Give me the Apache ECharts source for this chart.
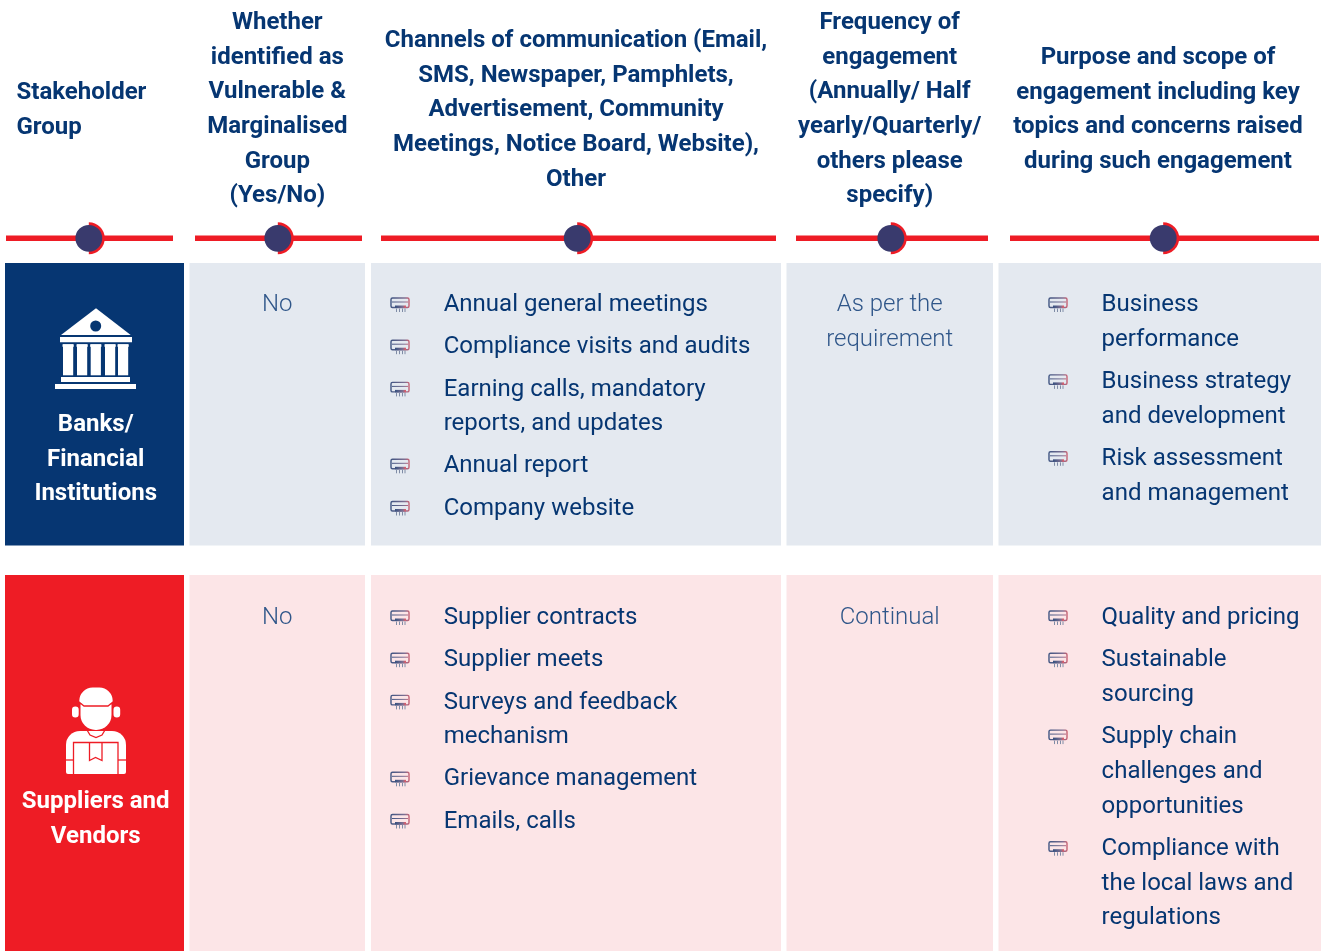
<!DOCTYPE html>
<html><head><meta charset="utf-8">
<style>html,body{margin:0;padding:0;background:#fff}#c{width:1322px;height:951px}</style>
<script src="https://cdn.jsdelivr.net/npm/echarts@6/dist/echarts.min.js"></script>
</head><body><div id="c"></div>
<script>
// ---- content ----
const headerStakeholder = ["Stakeholder","Group"];
const headerVulnerable = ["Whether","identified as","Vulnerable &","Marginalised","Group","(Yes/No)"];
const headerChannels = ["Channels of communication (Email,","SMS, Newspaper, Pamphlets,","Advertisement, Community","Meetings, Notice Board, Website),","Other"];
const headerFrequency = ["Frequency of","engagement","(Annually/ Half","yearly/Quarterly/","others please","specify)"];
const headerPurpose = ["Purpose and scope of","engagement including key","topics and concerns raised","during such engagement"];

const banksGroup = ["Banks/","Financial","Institutions"];
const banksVulnerable = ["No"];
const banksChannels = [["Annual general meetings"],["Compliance visits and audits"],["Earning calls, mandatory","reports, and updates"],["Annual report"],["Company website"]];
const banksFrequency = ["As per the","requirement"];
const banksPurpose = [["Business","performance"],["Business strategy","and development"],["Risk assessment","and management"]];

const suppliersGroup = ["Suppliers and","Vendors"];
const suppliersVulnerable = ["No"];
const suppliersChannels = [["Supplier contracts"],["Supplier meets"],["Surveys and feedback","mechanism"],["Grievance management"],["Emails, calls"]];
const suppliersFrequency = ["Continual"];
const suppliersPurpose = [["Quality and pricing"],["Sustainable","sourcing"],["Supply chain","challenges and","opportunities"],["Compliance with","the local laws and","regulations"]];

// ---- layout & style ----
const NAVY='#063672', RED='#ee1c25', BLUE_BG='#e4e9f0', PINK_BG='#fce5e7', DOT='#393a6d', MUTED='#2f5689';
const FONT='Roboto';
const LINE=34.7, GAP=42.2, DY=2.1, HDY=1.8;
const cols=[[5,184],[189.5,365],[371,781],[786.5,993],[998.5,1321]];
const rows=[[263,545.5],[575,951]];
const rules=[[6,173,88.8],[195,362,277.8],[381,776,577.2],[796,988,890.8],[1010,1319,1163.2]];
const g=[];
function txt(s,x,y,o){g.push({type:'text',silent:true,z:5,style:{text:s,x,y:y+(o.dy==null?DY:o.dy),font:`${o.w||400} ${o.sz||24}px ${FONT}`,fill:o.c||NAVY,textAlign:o.a||'left',textVerticalAlign:'middle'}});}
function block(lines,x,y,o){lines.forEach((s,i)=>txt(s,x,y+i*LINE,o));}
function rect(x,y,w,h,fill,r){g.push({type:'rect',silent:true,z:2,shape:{x,y,width:w,height:h,r:r||0},style:{fill}});}
function bullet(x,y){
  const grad={type:'linear',x:0,y:0,x2:1,y2:0,colorStops:[{offset:0,color:'#35507f'},{offset:.7,color:'#7d6f92'},{offset:1,color:'#ec5a63'}],global:false};
  g.push({type:'rect',silent:true,z:3,shape:{x:x+1,y:y-5,width:18,height:9.5,r:1.5},style:{fill:'none',stroke:grad,lineWidth:1.4}});
  g.push({type:'line',silent:true,z:3,shape:{x1:x+2,y1:y-1,x2:x+18,y2:y-1},style:{stroke:grad,lineWidth:1}});
  g.push({type:'rect',silent:true,z:3,shape:{x:x+5,y:y+2.5,width:11,height:2.5},style:{fill:grad}});
  [6.5,9.5,12.5,15].forEach(d=>g.push({type:'line',silent:true,z:3,shape:{x1:x+d,y1:y+5.5,x2:x+d,y2:y+9},style:{stroke:'#7f8ca6',lineWidth:1}}));
}
function list(items,bx,tx,y){
  items.forEach(it=>{bullet(bx,y);block(it,tx,y,{});y+=(it.length-1)*LINE+GAP;});
}
// headers
const HW=700;
block(headerStakeholder,16.5,91,{w:HW,dy:HDY});
block(headerVulnerable,277.3,21,{w:HW,a:'center',dy:HDY});
block(headerChannels,576,39,{w:HW,a:'center',dy:HDY});
block(headerFrequency,889.7,21,{w:HW,a:'center',dy:HDY});
block(headerPurpose,1158,56,{w:HW,a:'center',dy:HDY});
// rules
rules.forEach(([a,b,c])=>{
  rect(a,235.5,b-a,5.5,RED);
  g.push({type:'sector',silent:true,z:3,shape:{cx:c,cy:238.3,r0:0,r:16,startAngle:-Math.PI/2,endAngle:Math.PI/2},style:{fill:RED}});
  g.push({type:'circle',silent:true,z:4,shape:{cx:c,cy:238.3,r:13.4},style:{fill:DOT}});
});
// cells
[[NAVY,BLUE_BG],[RED,PINK_BG]].forEach(([dark,light],r)=>{
  cols.forEach((c,i)=>rect(c[0],rows[r][0],c[1]-c[0],rows[r][1]-rows[r][0],i?light:dark));
});
// row contents
block(banksGroup,95.7,423,{w:HW,c:'#fff',a:'center',dy:HDY});
block(suppliersGroup,95.7,800,{w:HW,c:'#fff',a:'center',dy:HDY});
block(banksVulnerable,277.3,303,{w:300,a:'center',c:MUTED});
block(suppliersVulnerable,277.3,616,{w:300,a:'center',c:MUTED});
block(banksFrequency,889.7,303,{w:300,a:'center',c:MUTED});
block(suppliersFrequency,889.7,616,{w:300,a:'center',c:MUTED});
list(banksChannels,390,443.7,303);
list(suppliersChannels,390,443.7,616);
list(banksPurpose,1048,1101.6,303);
list(suppliersPurpose,1048,1101.6,616);
// bank icon
const W='#fff';
g.push({type:'polygon',silent:true,z:3,shape:{points:[[96,308.3],[130.7,335],[61,335]]},style:{fill:W}});
g.push({type:'circle',silent:true,z:4,shape:{cx:95.7,cy:326,r:5.5},style:{fill:NAVY}});
rect(60,337,72,5.3,W);
[63,77,90.7,105,118].forEach(x=>{rect(x,344.3,10.2,31,W);rect(x-.5,344.3,11.2,2.5,W);});
rect(61,377,69,5,W);
rect(55,384,81,5,W);
// courier icon
rect(79.3,687.5,33.4,16,W,[15,15,3,3]);
rect(80.5,703,31,27,W,[2,2,15,15]);
rect(72,706.5,6.7,11,W,3.3);
rect(113.5,706.5,6.7,11,W,3.3);
rect(66,731,60,43,W,[14,14,2,2]);
function redLine(pts){g.push({type:'polyline',silent:true,z:4,shape:{points:pts},style:{stroke:RED,lineWidth:1.3,fill:'none'}});}
redLine([[79,702],[84,706],[108,706],[113,702]]);
redLine([[87,730],[90,735],[96,737.5],[102,735],[105,730]]);
g.push({type:'rect',silent:true,z:4,shape:{x:73.5,y:742.5,width:44.5,height:33},style:{fill:'none',stroke:RED,lineWidth:1.3}});
redLine([[66,760],[73.5,760]]);redLine([[118,760],[126,760]]);
redLine([[89.5,742.5],[89.5,760.5],[95.5,757.5],[102,760.5],[102,742.5]]);

const chart=echarts.init(document.getElementById('c'),null,{renderer:'canvas'});
chart.setOption({animation:false,backgroundColor:'#fff',graphic:{elements:g}});
</script></body></html>
